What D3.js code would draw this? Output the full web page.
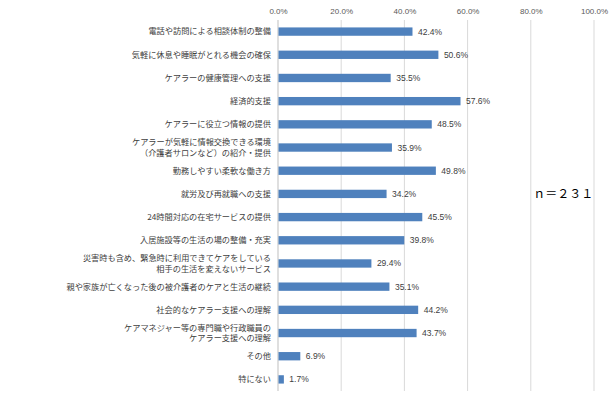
<!DOCTYPE html>
<html>
<head>
<meta charset="utf-8">
<script src="https://cdn.jsdelivr.net/npm/d3@7"></script>
<style>
  body { margin: 0; background: #fff; }
  text { font-family: "Noto Sans CJK JP", "Noto Sans", sans-serif; }
</style>
</head>
<body>
<div id="chart"></div>
<script>
// categories (two-line labels split by "\n")
const categories = [
  "電話や訪問による相談体制の整備",
  "気軽に休息や睡眠がとれる機会の確保",
  "ケアラーの健康管理への支援",
  "経済的支援",
  "ケアラーに役立つ情報の提供",
  "ケアラーが気軽に情報交換できる環境\n（介護者サロンなど）の紹介・提供",
  "勤務しやすい柔軟な働き方",
  "就労及び再就職への支援",
  "24時間対応の在宅サービスの提供",
  "入居施設等の生活の場の整備・充実",
  "災害時も含め、緊急時に利用できてケアをしている\n相手の生活を変えないサービス",
  "親や家族が亡くなった後の被介護者のケアと生活の継続",
  "社会的なケアラー支援への理解",
  "ケアマネジャー等の専門職や行政職員の\nケアラー支援への理解",
  "その他",
  "特にない"
];
const values = [42.4, 50.6, 35.5, 57.6, 48.5, 35.9, 49.8, 34.2, 45.5, 39.8, 29.4, 35.1, 44.2, 43.7, 6.9, 1.7];
const ticks = [0, 20, 40, 60, 80, 100];
const note = "ｎ＝２３１";

const data = categories.map((c, i) => ({ cat: c, value: values[i] }));

const width = 616, height = 399,
    margin = ({ top: 20, right: 22, bottom: 8, left: 278 });

let svg = d3.select("#chart")
    .append("svg")
    .attr("width", width)
    .attr("height", height);

const x = d3.scaleLinear()
    .domain([0, 100])
    .range([margin.left, width - margin.right]);

const y = d3.scaleBand()
    .domain(categories)
    .range([margin.top, height - margin.bottom])
    .paddingInner(0.64)
    .paddingOuter(0.32);

// gridlines
svg.append("g")
    .selectAll("line")
    .data(ticks.slice(1))
    .join("line")
    .attr("x1", d => x(d)).attr("x2", d => x(d))
    .attr("y1", margin.top).attr("y2", height - margin.bottom)
    .attr("stroke", "#d9d9d9")
    .attr("stroke-width", 1);

// top axis labels
const xAxis = g => g
    .attr("transform", `translate(0,${margin.top})`)
    .call(d3.axisTop(x).tickValues(ticks).tickFormat(d => d.toFixed(1) + "%").tickSize(0).tickPadding(6))
    .call(g => g.select(".domain").remove())
    .call(g => g.selectAll("text")
        .style("font-family", "'Liberation Sans', Arial, sans-serif")
        .style("font-size", "8px")
        .attr("fill", "#595959"));

svg.append("g").call(xAxis);

// vertical axis line
svg.append("line")
    .attr("x1", x(0)).attr("x2", x(0))
    .attr("y1", margin.top).attr("y2", height - margin.bottom)
    .attr("stroke", "#bfbfbf");

let bar = svg.selectAll(".bar")
    .data(data)
    .join("g")
    .attr("class", "bar");

bar.append("rect")
    .attr("fill", "#4f81bd")
    .attr("x", x(0) + 0.5)
    .attr("y", d => y(d.cat))
    .attr("width", d => x(d.value) - x(0))
    .attr("height", y.bandwidth());

bar.append("text")
    .text(d => d.value.toFixed(1) + "%")
    .attr("x", d => x(d.value) + 6)
    .attr("y", d => y(d.cat) + y.bandwidth() / 2)
    .attr("dy", "0.35em")
    .style("font-family", "'Liberation Sans', Arial, sans-serif")
    .style("font-size", "8.5px")
    .attr("fill", "#404040");

// category labels
bar.append("text")
    .attr("text-anchor", "end")
    .attr("x", x(0) - 7)
    .attr("y", d => y(d.cat) + y.bandwidth() / 2)
    .style("font-size", "8.2px")
    .attr("fill", "#404040")
    .each(function(d) {
        const lines = d.cat.split("\n");
        const t = d3.select(this);
        lines.forEach((l, i) => {
            t.append("tspan")
                .attr("x", x(0) - 7)
                .attr("dy", i === 0 ? (0.35 - (lines.length - 1) * 0.65) + "em" : "1.3em")
                .text(l);
        });
    });

// n label
svg.append("text")
    .attr("x", x(80.8))
    .attr("y", y(categories[7]) + y.bandwidth() / 2)
    .attr("dy", "0.35em")
    .style("font-size", "12px")
    .attr("fill", "#000")
    .text(note);
</script>
</body>
</html>
